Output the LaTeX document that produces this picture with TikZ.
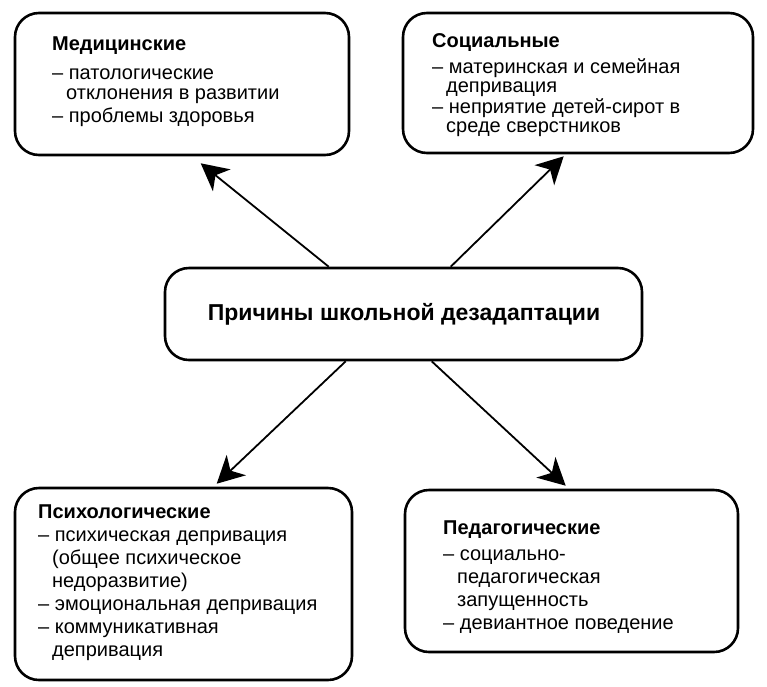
\documentclass[tikz,border=0pt]{standalone}
\usepackage{fontspec}
\setmainfont{Liberation Sans}
\usetikzlibrary{arrows.meta,calc}
\tikzset{
  box/.style={draw, line width=2.6pt, rounded corners=24pt, inner sep=0pt},
  arr/.style={line width=1.8pt, -{Stealth[length=27pt,width=28pt,inset=8pt]}},
  txt/.style={anchor=base west, inner sep=0pt, font=\fontsize{20}{20}\selectfont},
}
\newcommand{\ind}{\hspace*{14pt}}
\begin{document}
\begin{tikzpicture}[x=1pt,y=-1pt]
\useasboundingbox (0,0) rectangle (767,686);
% boxes
\node[box, minimum width=334pt, minimum height=142pt] (tl) at (182,84) {};
\node[box, minimum width=350pt, minimum height=140pt] (tr) at (578,83) {};
\node[box, minimum width=477pt, minimum height=92pt] (c) at (403.5,314) {};
\node[box, minimum width=337pt, minimum height=192pt] (bl) at (183.5,584) {};
\node[box, minimum width=333pt, minimum height=162pt] (br) at (571.5,571) {};
% texts
\node[anchor=base, inner sep=0pt, font=\fontsize{23}{26}\selectfont\bfseries] (ct) at (404,320) {Причины школьной дезадаптации};
\node[txt] (tlt) at (52,50) {\fontsize{20}{20}\selectfont\begin{tabular}[t]{@{}l@{}}
\textbf{Медицинские}\\[9pt]
– патологические\\
\ind отклонения в развитии\\[3pt]
– проблемы здоровья
\end{tabular}};
\node[txt] (trt) at (432,47) {\fontsize{20}{19}\selectfont\begin{tabular}[t]{@{}l@{}}
\textbf{Социальные}\\[6pt]
– материнская и семейная\\
\ind депривация\\
– неприятие детей-сирот в\\
\ind среде сверстников
\end{tabular}};
\node[txt] (blt) at (38,518) {\fontsize{20}{23}\selectfont\begin{tabular}[t]{@{}l@{}}
\textbf{Психологические}\\
– психическая депривация\\
\ind (общее психическое\\
\ind недоразвитие)\\
– эмоциональная депривация\\
– коммуникативная\\
\ind депривация
\end{tabular}};
\node[txt] (brt) at (443,534) {\fontsize{20}{23}\selectfont\begin{tabular}[t]{@{}l@{}}
\textbf{Педагогические}\\[3pt]
– социально-\\
\ind педагогическая\\
\ind запущенность\\
– девиантное поведение
\end{tabular}};
% arrows
\draw[arr] ($(c.north west)+(165,0)$) -- ($(tl.south west)+(187,7)$);
\draw[arr] ($(c.north west)+(287,0)$) -- ($(tr.south west)+(162,2)$);
\draw[arr] ($(c.south west)+(182,0)$) -- ($(bl.north west)+(203,-3)$);
\draw[arr] ($(c.south west)+(268,0)$) -- ($(br.north west)+(162,-3)$);
\end{tikzpicture}
\end{document}
